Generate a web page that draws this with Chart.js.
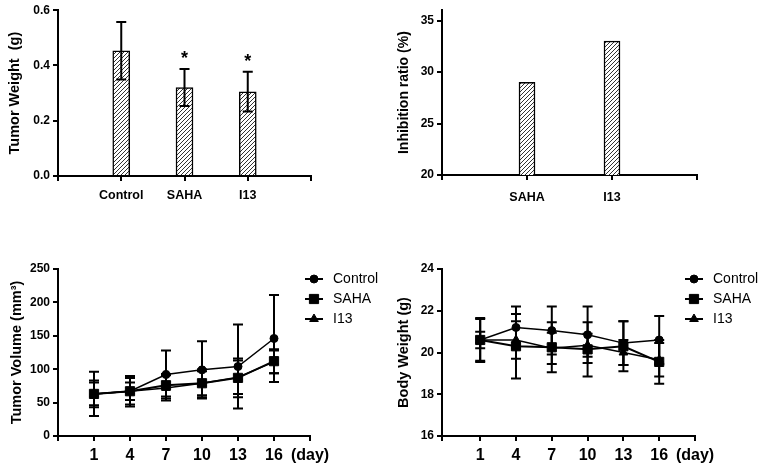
<!DOCTYPE html>
<html><head><meta charset="utf-8">
<script src="https://cdn.jsdelivr.net/npm/chart.js@4.4.1/dist/chart.umd.min.js"></script>
<style>
html,body{margin:0;padding:0;background:#fff;}
#wrap{position:relative;width:760px;height:465px;overflow:hidden;background:#fff;}
canvas{position:absolute;display:block;}
</style></head><body>
<div id="wrap">
<canvas id="c1" width="380" height="215" style="left:0;top:0"></canvas>
<canvas id="c2" width="380" height="215" style="left:380px;top:0"></canvas>
<canvas id="c3" width="380" height="215" style="left:0;top:250px"></canvas>
<canvas id="c4" width="380" height="215" style="left:380px;top:250px"></canvas>
</div>
<script>
// ---------- data ----------
const weightGroups = ['Control', 'SAHA', 'I13'];
const tumorWeight = [0.453, 0.320, 0.305];
const tumorWeightErr = [0.104, 0.067, 0.072];
const tumorWeightSig = ['', '*', '*'];
const weightTicks = [0.0, 0.2, 0.4, 0.6];

const inhibitionGroups = ['SAHA', 'I13'];
const inhibitionRatio = [29.0, 33.0];
const inhibitionTicks = [20, 25, 30, 35];

const days = [1, 4, 7, 10, 13, 16];
const dayLabel = '(day)';
const seriesNames = ['Control', 'SAHA', 'I13'];

const volControl = [63, 67, 92, 99, 104, 146];
const volSAHA    = [63, 67, 76, 79, 87, 112];
const volI13     = [63, 67, 72, 79, 88, 111];
const volControlErr = [33, 23, 36, 43, 63, 65];
const volSAHAErr    = [20, 13, 17, 18, 29, 18];
const volI13Err     = [17, 20, 19, 21, 25, 17];
const volTicks = [0, 50, 100, 150, 200, 250];

const bwControl = [20.6, 21.2, 21.05, 20.85, 20.45, 20.6];
const bwSAHA    = [20.6, 20.3, 20.25, 20.15, 20.3, 19.55];
const bwI13     = [20.6, 20.6, 20.2, 20.35, 20.0, 19.65];
const bwControlErr = [1.0, 1.0, 1.15, 1.35, 1.05, 1.15];
const bwSAHAErr    = [1.05, 1.55, 1.2, 1.3, 1.2, 1.05];
const bwI13Err     = [0.4, 0.9, 0.75, 0.55, 0.6, 0.8];
const bwTicks = [16, 18, 20, 22, 24];

// ---------- setup ----------
const FONT = '"Liberation Sans", Arial, Helvetica, sans-serif';
Chart.defaults.font.family = FONT;
Chart.defaults.font.weight = 'bold';
Chart.defaults.color = '#000';

function hatch(ctx) {
  const c = document.createElement('canvas'); c.width = 4; c.height = 4;
  const g = c.getContext('2d');
  g.fillStyle = '#fff'; g.fillRect(0, 0, 4, 4);
  g.strokeStyle = '#333'; g.lineWidth = 1;
  g.beginPath();
  g.moveTo(0, 4); g.lineTo(4, 0);
  g.moveTo(-1, 1); g.lineTo(1, -1);
  g.moveTo(3, 5); g.lineTo(5, 3);
  g.stroke();
  return ctx.createPattern(c, 'repeat');
}

const errorBars = {
  id: 'errorBars',
  afterDatasetsDraw(chart, args, opts) {
    const ctx = chart.ctx;
    const yScale = chart.scales.y;
    chart.data.datasets.forEach((ds, di) => {
      if (!ds.errors) return;
      const meta = chart.getDatasetMeta(di);
      ctx.save();
      ctx.strokeStyle = '#000';
      ctx.fillStyle = '#000';
      ctx.lineWidth = opts.lineWidth || 2;
      const cap = opts.capWidth || 10;
      meta.data.forEach((el, i) => {
        const raw = ds.data[i];
        const val = (raw && typeof raw === 'object') ? raw.y : raw;
        const e = ds.errors[i];
        if (val == null || e == null) return;
        const x = el.x;
        const yt = yScale.getPixelForValue(val + e);
        const yb = yScale.getPixelForValue(val - e);
        ctx.beginPath();
        ctx.moveTo(x, yt); ctx.lineTo(x, yb);
        ctx.moveTo(x - cap / 2, yt); ctx.lineTo(x + cap / 2, yt);
        ctx.moveTo(x - cap / 2, yb); ctx.lineTo(x + cap / 2, yb);
        ctx.stroke();
        if (ds.marks && ds.marks[i]) {
          ctx.font = 'bold 18px ' + FONT;
          ctx.textAlign = 'center';
          ctx.textBaseline = 'alphabetic';
          ctx.fillText(ds.marks[i], x, yt - 5);
        }
      });
      ctx.restore();
    });
  }
};

const lineLegend = {
  id: 'lineLegend',
  afterDraw(chart, args, opts) {
    if (!opts || !opts.display) return;
    const ctx = chart.ctx;
    ctx.save();
    chart.data.datasets.forEach((ds, i) => {
      const y = opts.y + i * opts.spacing;
      const x0 = opts.x;
      ctx.strokeStyle = '#000'; ctx.fillStyle = '#000'; ctx.lineWidth = 2;
      ctx.beginPath(); ctx.moveTo(x0, y); ctx.lineTo(x0 + opts.lineLength, y); ctx.stroke();
      ctx.lineWidth = 1;
      Chart.helpers.drawPoint(ctx, {pointStyle: ds.pointStyle, radius: ds.pointRadius, borderWidth: 1, rotation: 0}, x0 + opts.lineLength / 2, y);
      ctx.font = 'normal 14px ' + FONT;
      ctx.textAlign = 'left'; ctx.textBaseline = 'middle';
      ctx.fillText(ds.label, x0 + opts.textOffset, y);
    });
    ctx.restore();
  }
};

function fixWidth(w) { return s => { s.width = w; }; }
function fixHeight(h) { return s => { s.height = h; }; }
function setTicks(list) { return s => { s.ticks = list.map(v => ({value: v})); }; }

function axisCommon() {
  return {
    grid: {display: true, drawOnChartArea: false, drawTicks: true, tickLength: 5, color: '#000', lineWidth: 2, offset: false},
    border: {display: true, color: '#000', width: 2}
  };
}

// ---------- chart 1: tumor weight ----------
(function () {
  const cv = document.getElementById('c1');
  const ctx = cv.getContext('2d');
  const labels = [''].concat(weightGroups, ['']);
  const data = [null].concat(tumorWeight, [null]);
  const errs = [null].concat(tumorWeightErr, [null]);
  const marks = [''].concat(tumorWeightSig, ['']);
  new Chart(ctx, {
    type: 'bar',
    data: {labels, datasets: [{
      data, errors: errs, marks,
      backgroundColor: hatch(ctx), borderColor: '#000', borderWidth: 1.5,
      barThickness: 17, borderSkipped: 'start'
    }]},
    options: {
      responsive: false, animation: false, devicePixelRatio: 1,
      layout: {padding: {top: 7, right: 69, bottom: 0, left: 0}},
      plugins: {legend: {display: false}, tooltip: {enabled: false}, errorBars: {capWidth: 10, lineWidth: 2}},
      scales: {
        x: Object.assign(axisCommon(), {
          offset: false, afterFit: fixHeight(39),
          ticks: {font: {size: 12.5, weight: 'bold'}, padding: 7, maxRotation: 0, autoSkip: false}
        }),
        y: Object.assign(axisCommon(), {
          min: 0, max: 0.6, afterFit: fixWidth(58), afterBuildTicks: setTicks(weightTicks),
          ticks: {font: {size: 12, weight: 'bold'}, padding: 3, callback: v => Number(v).toFixed(1)},
          title: {display: true, text: 'Tumor Weight  (g)', font: {size: 14.5, weight: 'bold'}, padding: {top: 6, bottom: 0}}
        })
      }
    },
    plugins: [errorBars]
  });
})();

// ---------- chart 2: inhibition ratio ----------
(function () {
  const cv = document.getElementById('c2');
  const ctx = cv.getContext('2d');
  const labels = [''].concat(inhibitionGroups, ['']);
  const data = [null].concat(inhibitionRatio, [null]);
  new Chart(ctx, {
    type: 'bar',
    data: {labels, datasets: [{
      data, backgroundColor: hatch(ctx), borderColor: '#000', borderWidth: 1.5,
      barThickness: 16, borderSkipped: 'start'
    }]},
    options: {
      responsive: false, animation: false, devicePixelRatio: 1,
      layout: {padding: {top: 7, right: 63, bottom: 0, left: 0}},
      plugins: {legend: {display: false}, tooltip: {enabled: false}},
      scales: {
        x: Object.assign(axisCommon(), {
          offset: false, afterFit: fixHeight(40),
          ticks: {font: {size: 12.5, weight: 'bold'}, padding: 10, maxRotation: 0, autoSkip: false}
        }),
        y: Object.assign(axisCommon(), {
          min: 20, max: 36, afterFit: fixWidth(62), afterBuildTicks: setTicks(inhibitionTicks),
          ticks: {font: {size: 12, weight: 'bold'}, padding: 3},
          title: {display: true, text: 'Inhibition ratio (%)', font: {size: 14, weight: 'bold'}, padding: {top: 16, bottom: 0}}
        })
      }
    }
  });
})();

// ---------- line charts ----------
function lineChart(id, values, errors, yTicks, yMin, yMax, xMin, yWidth, rightPad, title, titlePad) {
  const cv = document.getElementById(id);
  const ctx = cv.getContext('2d');
  const styles = [
    {pointStyle: 'circle', pointRadius: 4, borderWidth: 1.5},
    {pointStyle: 'rect', pointRadius: 6.5, borderWidth: 2},
    {pointStyle: 'triangle', pointRadius: 5, borderWidth: 1.5}
  ];
  const datasets = seriesNames.map((name, si) => ({
    label: name,
    data: days.map((d, i) => ({x: d, y: values[si][i]})),
    errors: errors[si],
    borderColor: '#000', backgroundColor: '#000',
    pointBackgroundColor: '#000', pointBorderColor: '#000', pointBorderWidth: 1,
    borderWidth: styles[si].borderWidth, pointStyle: styles[si].pointStyle, pointRadius: styles[si].pointRadius,
    tension: 0, fill: false
  }));
  const xTickVals = [xMin].concat(days, [19]);
  new Chart(ctx, {
    type: 'line',
    data: {datasets},
    options: {
      responsive: false, animation: false, devicePixelRatio: 1,
      layout: {padding: {top: 19, right: rightPad, bottom: 0, left: 0}},
      plugins: {
        legend: {display: false}, tooltip: {enabled: false},
        errorBars: {capWidth: 10, lineWidth: 2},
        lineLegend: {display: true, x: 305, y: 29, spacing: 20, lineLength: 18, textOffset: 28}
      },
      scales: {
        x: Object.assign(axisCommon(), {
          type: 'linear', min: xMin, max: 19, afterFit: fixHeight(29), afterBuildTicks: setTicks(xTickVals),
          ticks: {font: {size: 16, weight: 'bold'}, padding: 5, maxRotation: 0, autoSkip: false,
            callback: v => (v === 19 ? dayLabel : (days.indexOf(v) >= 0 ? String(v) : ''))}
        }),
        y: Object.assign(axisCommon(), {
          min: yMin, max: yMax, afterFit: fixWidth(yWidth), afterBuildTicks: setTicks(yTicks),
          ticks: {font: {size: 12, weight: 'bold'}, padding: 3},
          title: {display: true, text: title, font: {size: 14.5, weight: 'bold'}, padding: {top: titlePad, bottom: 0}}
        })
      }
    },
    plugins: [errorBars, lineLegend]
  });
}

lineChart('c3', [volControl, volSAHA, volI13], [volControlErr, volSAHAErr, volI13Err],
  volTicks, 0, 250, -2, 58, 70, 'Tumor Volume (mm\u00B3)', 8);
lineChart('c4', [bwControl, bwSAHA, bwI13], [bwControlErr, bwSAHAErr, bwI13Err],
  bwTicks, 16, 24, -2.2, 62, 65, 'Body Weight (g)', 15);
</script>
</body></html>
